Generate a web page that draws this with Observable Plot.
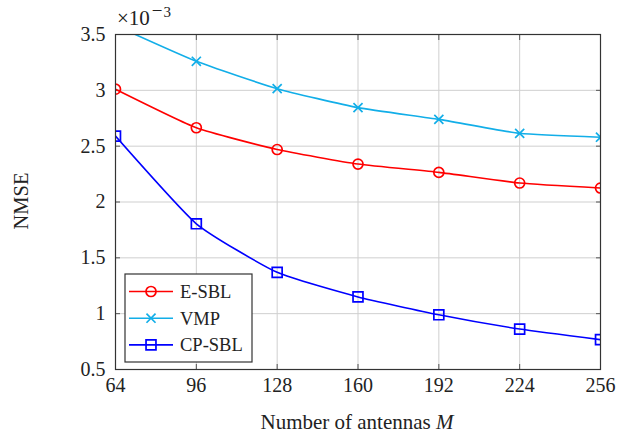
<!DOCTYPE html>
<html><head><meta charset="utf-8">
<script src="https://cdn.jsdelivr.net/npm/d3@7"></script>
<script src="https://cdn.jsdelivr.net/npm/@observablehq/plot@0.6"></script>
<style>body{margin:0;background:#fff} #chart{width:629px;height:436px}</style>
</head><body><div id="chart"></div>
<script>
const antennas = [64, 96, 128, 160, 192, 224, 256];
const esbl = [3.01, 2.665, 2.47, 2.34, 2.265, 2.17, 2.125];
const vmp = [3.58, 3.26, 3.015, 2.845, 2.74, 2.615, 2.58];
const cpsbl = [2.59, 1.805, 1.37, 1.15, 0.99, 0.862, 0.767];
const xTicks = [64, 96, 128, 160, 192, 224, 256];
const yTicks = [0.5, 1, 1.5, 2, 2.5, 3, 3.5];
const seriesNames = ["E-SBL", "VMP", "CP-SBL"];
const seriesColors = ["#ff0000", "#12aee8", "#0000ff"];
const seriesSymbols = ["circle", "times", "square"];
const seriesR = [5, 4.2, 5.6];
const seriesValues = [esbl, vmp, cpsbl];

const data = [];
seriesNames.forEach((s, i) => antennas.forEach((m, j) => data.push({M: m, value: seriesValues[i][j], series: s})));

const font = "Liberation Serif, serif";
const inward = {tickSize: -5, tickFormat: () => "", stroke: "#555"};
const marks = [
  Plot.gridX(xTicks, {stroke: "#cfcfcf", strokeOpacity: 1, strokeWidth: 1}),
  Plot.gridY(yTicks, {stroke: "#cfcfcf", strokeOpacity: 1, strokeWidth: 1}),
  Plot.axisX(xTicks, {anchor: "bottom", tickSize: 0, tickPadding: 8, tickFormat: d => String(d), fill: "#222", fontSize: 20, fontFamily: font}),
  Plot.axisY(yTicks, {anchor: "left", tickSize: 0, tickPadding: 10, tickFormat: d => String(d), fill: "#222", fontSize: 20, fontFamily: font}),
  Plot.axisX(xTicks, {anchor: "bottom", ...inward}),
  Plot.axisX(xTicks, {anchor: "top", ...inward}),
  Plot.axisY(yTicks, {anchor: "left", ...inward}),
  Plot.axisY(yTicks, {anchor: "right", ...inward}),
  Plot.line(data, {x: "M", y: "value", z: "series", stroke: "series", curve: "cardinal", tension: 0.5, strokeWidth: 1.6, clip: true})
];
seriesNames.forEach((s, i) => {
  marks.push(Plot.dot(data.filter(d => d.series === s), {x: "M", y: "value", stroke: "series", symbol: "series", r: seriesR[i], strokeWidth: 1.7, fill: "none", clip: true}));
});
marks.push(Plot.frame({stroke: "#333", strokeWidth: 1.2}));

const plot = Plot.plot({
  width: 629, height: 436,
  marginLeft: 115, marginRight: 29, marginTop: 34, marginBottom: 67,
  style: {fontFamily: font, fontSize: "20px", background: "white", color: "#222"},
  x: {domain: [64, 256], label: null},
  y: {domain: [0.5, 3.5], label: null},
  color: {domain: seriesNames, range: seriesColors},
  symbol: {domain: seriesNames, range: seriesSymbols},
  marks
});
document.getElementById("chart").appendChild(plot);

const svg = d3.select(plot);
function txt(sel) {
  return sel.append("text").attr("font-family", font).attr("fill", "#222").attr("text-anchor", "start");
}
// exponent label
const ex = txt(svg).attr("x", 117).attr("y", 25).attr("font-size", 21);
ex.append("tspan").text("×10");
ex.append("tspan").attr("dy", -8).attr("dx", 2).attr("font-size", 19).text("−");
ex.append("tspan").attr("dx", 1).attr("font-size", 15).text("3");
// y label
txt(svg).attr("transform", "translate(28,201) rotate(-90)").attr("text-anchor", "middle")
  .attr("font-size", 20.5).text("NMSE");
// x label
const xl = txt(svg).attr("x", 357).attr("y", 429).attr("text-anchor", "middle").attr("font-size", 21);
xl.append("tspan").text("Number of antennas ");
xl.append("tspan").attr("font-style", "italic").text("M");
// legend
const lg = svg.append("g");
lg.append("rect").attr("x", 125).attr("y", 274).attr("width", 127).attr("height", 88).attr("fill", "white").attr("stroke", "#333").attr("stroke-width", 1.2);
seriesNames.forEach((s, i) => {
  const y = 291.5 + i * 26.7;
  lg.append("line").attr("x1", 129).attr("x2", 173).attr("y1", y).attr("y2", y).attr("stroke", seriesColors[i]).attr("stroke-width", 1.6);
  const sym = {circle: d3.symbolCircle, times: d3.symbolTimes, square: d3.symbolSquare}[seriesSymbols[i]];
  lg.append("path").attr("d", d3.symbol(sym, Math.PI * seriesR[i] * seriesR[i])()).attr("transform", `translate(151,${y})`)
    .attr("fill", "none").attr("stroke", seriesColors[i]).attr("stroke-width", 1.7);
  txt(lg).attr("x", 180).attr("y", y).attr("dy", "0.35em").attr("font-size", 18.5).text(s);
});
</script></body></html>
